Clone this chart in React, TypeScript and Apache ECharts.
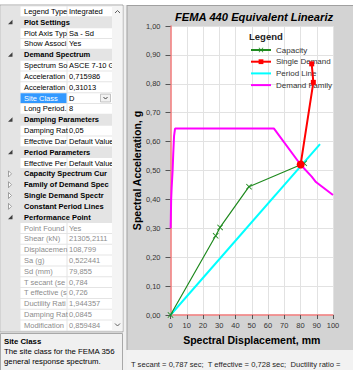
import React, { useEffect, useRef } from "react";
import * as echarts from "echarts";

const xTickLabels = ["0", "10", "20", "30", "40", "50", "60", "70", "80", "90", "100"];
const yTickLabels = ["0,00", "0,10", "0,20", "0,30", "0,40", "0,50", "0,60", "0,70", "0,80", "0,90", "1,00"];

const capacitySd = [0, 27.8, 30.5, 48.3, 82.3];
const capacitySa = [0, 0.274, 0.303, 0.444, 0.525];
const singleDemandSd = [86.9, 87.9, 80.1];
const singleDemandSa = [0.869, 0.805, 0.521];
const periodLineSd = [0, 92.0];
const periodLineSa = [0, 0.591];
const demandFamilySd = [0.1, 0.4, 0.7, 1.3, 1.7, 2.2, 2.8, 63.7, 80.1, 86.9, 89.5, 100];
const demandFamilySa = [0.3, 0.4, 0.44, 0.5, 0.56, 0.62, 0.645, 0.645, 0.52, 0.479, 0.46, 0.415];

const legendNames = ["Capacity", "Single Demand", "Period Line", "Demand Family"];

// p = property, c = expanded category, k = collapsed category, s = selected, r = read-only
const rowKinds = ["p", "c", "p", "p", "c", "p", "p", "p", "s", "p", "c", "p", "p", "c", "p", "k", "k", "k", "k", "c", "r", "r", "r", "r", "r", "r", "r", "r", "r", "r"];
const rowNames = [
  "Legend Type", "Plot Settings", "Plot Axis Typ", "Show Associ", "Demand Spectrum", "Spectrum So",
  "Acceleration", "Acceleration", "Site Class", "Long Period.", "Damping Parameters", "Damping Rat",
  "Effective Dar", "Period Parameters", "Effective Per", "Capacity Spectrum Cur", "Family of Demand Spec",
  "Single Demand Spectr", "Constant Period Lines", "Performance Point", "Point Found", "Shear (kN)",
  "Displacemen", "Sa (g)", "Sd (mm)", "T secant (se", "T effective (s", "Ductility Rati", "Damping Rat", "Modification",
];
const rowValues = [
  "Integrated", "", "Sa - Sd", "Yes", "", "ASCE 7-10 Ge", "0,715986", "0,31013", "D", "8", "", "0,05",
  "Default Value", "", "Default Value", "", "", "", "", "", "Yes", "21305,2111", "108,799", "0,522441",
  "79,855", "0,784", "0,726", "1,944357", "0,0845", "0,859484",
];

const descTitle = "Site Class";
const descLines = ["The site class for the FEMA 356", "general response spectrum."];
const statusText = "T secant = 0,787 sec;  T effective = 0,728 sec;  Ductility ratio =";
const chartTitle = "FEMA 440 Equivalent Lineariz";

const FONT = "'Liberation Sans', Arial, sans-serif";
const ROW0 = 6;
const ROW_H = 10.83;
const GRID_GRAY = "#e4e4e4";
const LINE_ICON = "path://M0,0L40,0L40,4L0,4Z";

function txt(x: number, y: number, text: string, opts: any = {}) {
  return {
    type: "text",
    x,
    y,
    z: 100,
    style: {
      text,
      fill: opts.fill || "#000",
      fontSize: opts.fontSize || 7.5,
      fontWeight: opts.fontWeight || "normal",
      fontStyle: opts.fontStyle || "normal",
      fontFamily: FONT,
      align: opts.align || "left",
      verticalAlign: "middle",
    },
  };
}

function buildPanel() {
  const els: any[] = [];
  const W = 112;
  els.push({ type: "rect", z: 100, shape: { x: 0, y: 0, width: 353, height: 5 }, style: { fill: "#ffffff" } });
  els.push({ type: "rect", z: 100, shape: { x: 0, y: 5, width: 127, height: 365 }, style: { fill: "#f0f0f0" } });
  els.push({ type: "rect", z: 100, shape: { x: 0, y: ROW0 - 1, width: 123, height: 30 * ROW_H + 2 }, style: { fill: "#ffffff", stroke: "#a8a8a8", lineWidth: 1 } });
  els.push({ type: "rect", z: 100, shape: { x: 1, y: ROW0, width: W - 1, height: 30 * ROW_H }, style: { fill: GRID_GRAY } });
  rowKinds.forEach((k, i) => {
    const y = ROW0 + i * ROW_H;
    const cy = y + ROW_H / 2;
    if (k === "c" || k === "k") {
      if (k === "c") {
        els.push({ type: "polygon", z: 100, shape: { points: [[12.5, cy - 2.5], [12.5, cy + 2], [8, cy + 2]] }, style: { fill: "#404040" } });
      } else {
        els.push({ type: "polygon", z: 100, shape: { points: [[8.5, cy - 3], [11.5, cy], [8.5, cy + 3]] }, style: { fill: "#ffffff", stroke: "#8a8a8a", lineWidth: 0.8 } });
      }
      els.push(txt(24, cy, rowNames[i], { fontWeight: "bold" }));
    } else {
      els.push({ type: "rect", z: 100, shape: { x: 20.5, y: y + 0.5, width: W - 20.5, height: ROW_H - 1 }, style: { fill: "#ffffff" } });
      els.push({ type: "line", z: 100, shape: { x1: 67, y1: y, x2: 67, y2: y + ROW_H }, style: { stroke: GRID_GRAY, lineWidth: 1 } });
      const col = k === "r" ? "#8c8c8c" : "#000000";
      if (k === "s") {
        els.push({ type: "rect", z: 100, shape: { x: 20.5, y: y + 0.5, width: 46, height: ROW_H - 1 }, style: { fill: "#3399ff" } });
        els.push(txt(24, cy, rowNames[i], { fill: "#ffffff" }));
        els.push({ type: "rect", z: 100, shape: { x: 100.5, y: y + 1.5, width: 10, height: ROW_H - 3 }, style: { fill: "#f2f2f2", stroke: "#b5b5b5", lineWidth: 0.8 } });
        els.push({ type: "polyline", z: 100, shape: { points: [[103.5, cy - 1], [105.5, cy + 1], [107.5, cy - 1]] }, style: { stroke: "#404040", lineWidth: 1, fill: null } });
      } else {
        els.push(txt(24, cy, rowNames[i], { fill: col }));
      }
      els.push(txt(69, cy, rowValues[i], { fill: col }));
    }
  });
  // scrollbar
  els.push({ type: "rect", z: 100, shape: { x: 112, y: ROW0, width: 10.5, height: 30 * ROW_H }, style: { fill: "#f4f4f4" } });
  els.push({ type: "polyline", z: 100, shape: { points: [[115, 13], [117.5, 10.5], [120, 13]] }, style: { stroke: "#606060", lineWidth: 1, fill: null } });
  els.push({ type: "polyline", z: 100, shape: { points: [[115, 323.5], [117.5, 326], [120, 323.5]] }, style: { stroke: "#606060", lineWidth: 1, fill: null } });
  // description pane
  els.push({ type: "rect", z: 100, shape: { x: 0.5, y: 333.5, width: 122, height: 40 }, style: { fill: "#f0f0f0", stroke: "#a8a8a8", lineWidth: 1 } });
  els.push(txt(4, 341, descTitle, { fontWeight: "bold", fontSize: 7.8 }));
  els.push(txt(4, 351.5, descLines[0], { fontSize: 7.8 }));
  els.push(txt(4, 361, descLines[1], { fontSize: 7.8 }));
  // splitter and chart panel borders
  els.push({ type: "line", z: 100, shape: { x1: 127, y1: 5, x2: 127, y2: 350 }, style: { stroke: "#a0a0a0", lineWidth: 1 } });
  els.push({ type: "line", z: 100, shape: { x1: 127, y1: 5.5, x2: 353, y2: 5.5 }, style: { stroke: "#a0a0a0", lineWidth: 1 } });
  // status bar
  els.push({ type: "rect", z: 100, shape: { x: 127, y: 350, width: 226, height: 20 }, style: { fill: "#f2f2f2" } });
  els.push(txt(131, 364.5, statusText, { fontSize: 7.6, fill: "#222" }));
  // title and legend header
  els.push(txt(175, 17, chartTitle, { fontSize: 11.2, fontWeight: "bold", fontStyle: "italic" }));
  els.push(txt(249, 36, "Legend", { fontSize: 9.5, fontWeight: "bold", fill: "#222" }));
  return els;
}

const pairs = (xs: number[], ys: number[]) => xs.map((x, i) => [x, ys[i]]);

export default function App() {
  const ref = useRef<HTMLDivElement>(null);
  useEffect(() => {
    if (!ref.current) return;
    const chart = echarts.init(ref.current, null, { renderer: "svg" });
    const axisLabel = { fontSize: 7.5, color: "#333", fontFamily: FONT };
    const singleData: any[] = pairs(singleDemandSd, singleDemandSa).map((p, i) =>
      i === singleDemandSd.length - 1 ? { value: p, symbol: "circle", symbolSize: 8 } : p
    );
    chart.setOption({
      animation: false,
      backgroundColor: "#d3d3d3",
      textStyle: { fontFamily: FONT },
      grid: { left: 170.5, top: 26, width: 162.5, height: 289, show: true, backgroundColor: "#ffffff", borderWidth: 0 },
      legend: {
        data: [
          { name: legendNames[0] },
          { name: legendNames[1] },
          { name: legendNames[2], icon: LINE_ICON },
          { name: legendNames[3], icon: LINE_ICON },
        ],
        orient: "vertical",
        left: 250,
        top: 46,
        padding: 0,
        itemWidth: 20,
        itemHeight: 6,
        itemGap: 3.7,
        textStyle: { fontSize: 8, color: "#333", fontFamily: FONT },
      },
      xAxis: {
        type: "value",
        min: 0,
        max: 100,
        interval: 10,
        name: "Spectral Displacement, mm",
        nameLocation: "middle",
        nameGap: 19,
        nameTextStyle: { fontSize: 10.5, fontWeight: "bold", color: "#000", fontFamily: FONT },
        axisLine: { show: true, onZero: false, lineStyle: { color: "#f07878", width: 1.5 } },
        axisTick: { show: true, length: 4, lineStyle: { color: "#555" } },
        axisLabel: { ...axisLabel, margin: 6, formatter: (_v: number, i: number) => xTickLabels[i] },
        splitLine: { show: true, lineStyle: { color: "#e2e2e2", width: 1 } },
      },
      yAxis: {
        type: "value",
        min: 0,
        max: 1,
        interval: 0.1,
        name: "Spectral Acceleration, g",
        nameLocation: "middle",
        nameGap: 25,
        nameTextStyle: { fontSize: 10.5, fontWeight: "bold", color: "#000", fontFamily: FONT },
        axisLine: { show: true, onZero: false, lineStyle: { color: "#f07878", width: 1.5 } },
        axisTick: { show: true, length: 5, lineStyle: { color: "#555" } },
        axisLabel: { ...axisLabel, margin: 10, formatter: (_v: number, i: number) => yTickLabels[i] },
        splitLine: { show: true, lineStyle: { color: "#e2e2e2", width: 1 } },
      },
      series: [
        {
          name: "Demand Family",
          type: "line",
          data: pairs(demandFamilySd, demandFamilySa),
          symbol: "none",
          color: "#ff00ff",
          itemStyle: { color: "#ff00ff" },
          lineStyle: { color: "#ff00ff", width: 2 },
          z: 2,
        },
        {
          name: "Period Line",
          type: "line",
          data: pairs(periodLineSd, periodLineSa),
          symbol: "none",
          color: "#00ffff",
          itemStyle: { color: "#00ffff" },
          lineStyle: { color: "#00ffff", width: 2 },
          z: 3,
        },
        {
          name: "Capacity",
          type: "line",
          data: pairs(capacitySd, capacitySa),
          symbol: "path://M0,1L1,0L5,4L9,0L10,1L6,5L10,9L9,10L5,6L1,10L0,9L4,5Z",
          symbolSize: 6,
          color: "#1f8a1f",
          itemStyle: { color: "#1f8a1f" },
          lineStyle: { color: "#1f8a1f", width: 1.2 },
          z: 4,
        },
        {
          name: "Single Demand",
          type: "line",
          data: singleData,
          symbol: "rect",
          symbolSize: 5,
          color: "#ff0000",
          itemStyle: { color: "#ff0000" },
          lineStyle: { color: "#ff0000", width: 2 },
          z: 5,
        },
      ],
      graphic: buildPanel(),
    });
    return () => chart.dispose();
  }, []);
  return <div ref={ref} style={{ position: "absolute", left: 0, top: 0, width: 353, height: 370 }} />;
}
